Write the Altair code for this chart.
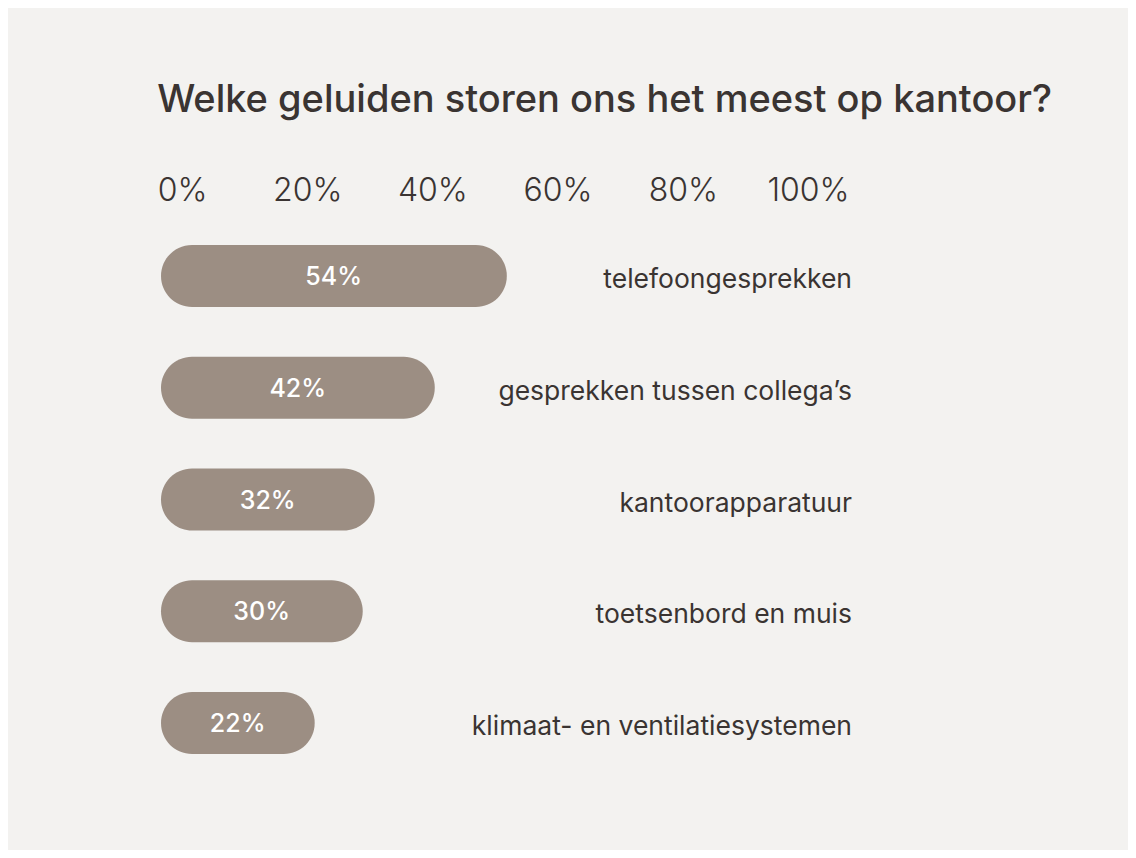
import altair as alt
import pandas as pd

categories = [
    "telefoongesprekken",
    "gesprekken tussen collega\u2019s",
    "kantoorapparatuur",
    "toetsenbord en muis",
    "klimaat- en ventilatiesystemen",
]
values = [54, 42, 32, 30, 22]
tick_values = [0, 20, 40, 60, 80, 100]

BG = "#f3f2f0"
BAR = "#9c8e83"
TEXT = "#3a3432"
FONT = "Inter"

df = pd.DataFrame({"cat": categories, "v": values})
df["half"] = df["v"] / 2
df["lab"] = [f"{v}%" for v in values]
ticks_df = pd.DataFrame({"t": tick_values})

BASE = -3.6
bar_scale = alt.Scale(domain=[BASE, 100], range=[0, 622], zero=False, nice=False)
y_enc = alt.Y("cat:N", sort=categories, axis=None,
              scale=alt.Scale(paddingInner=0, paddingOuter=0))

axis_layer = alt.Chart(ticks_df).mark_point(opacity=0).encode(
    x=alt.X("t:Q", scale=alt.Scale(domain=[0, 100], range=[21, 647]),
            axis=alt.Axis(orient="top", values=tick_values, labelExpr="datum.value + '%'",
                          title=None, ticks=False, tickSize=0, domain=False, grid=False,
                          labelFont=FONT, labelFontSize=32, labelFontWeight=300,
                          labelColor=TEXT, labelBaseline="alphabetic", labelPadding=20,
                          labelFlush=False))
)

bars = alt.Chart(df).mark_bar(size=62, cornerRadius=31, color=BAR).encode(
    x=alt.X("v:Q", scale=bar_scale, axis=None),
    x2=alt.datum(BASE),
    y=y_enc,
)

vals = alt.Chart(df).mark_text(color="white", font=FONT, fontSize=25, fontWeight=500,
                               dx=-11, dy=1, baseline="middle", align="center").encode(
    x=alt.X("half:Q", scale=bar_scale, axis=None),
    y=y_enc,
    text="lab:N",
)

cats = alt.Chart(df).mark_text(color=TEXT, font=FONT, fontSize=26.5, fontWeight=400,
                               align="right", baseline="alphabetic", dy=12).encode(
    x=alt.value(691),
    y=y_enc,
    text="cat:N",
)

chart = alt.layer(axis_layer, bars, vals, cats).resolve_scale(x="independent").properties(
    width=700,
    height=559,
    autosize=alt.AutoSizeParams(type="none"),
    padding={"left": 153, "top": 212, "right": 267, "bottom": 71},
    title=alt.Title("Welke geluiden storen ons het meest op kantoor?", anchor="start",
                    font=FONT, fontSize=38, fontWeight=500, color=TEXT, offset=54),
).configure(background=BG).configure_view(stroke=None)

chart.save("out.html", embed_options={"renderer": "svg", "actions": False})
